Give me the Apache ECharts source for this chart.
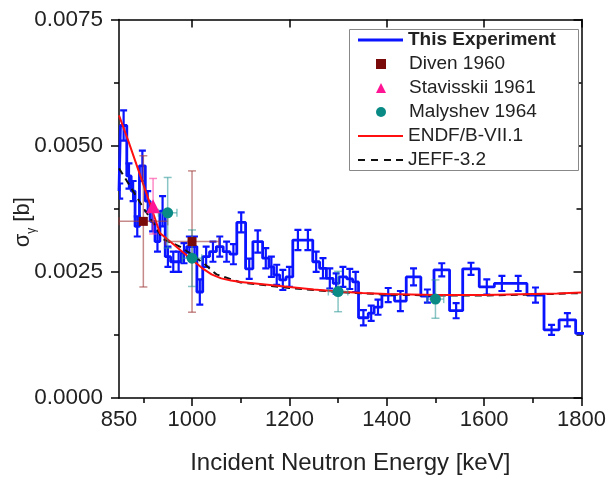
<!DOCTYPE html>
<html>
<head>
<meta charset="utf-8">
<script src="https://cdn.jsdelivr.net/npm/echarts@6/dist/echarts.min.js"></script>
<style>
  html, body { margin: 0; padding: 0; background: #fff; }
  #chart { width: 610px; height: 477px; }
</style>
</head>
<body>
<div id="chart"></div>
<script>
// histogram bins of this experiment (keV) and capture cross section (b)
const binEdges = [850, 853, 866, 875, 883, 892, 904, 914, 924, 934,
  945, 956, 967, 978, 989, 1000, 1010, 1022, 1036, 1050,
  1064, 1078, 1092, 1110, 1125, 1145, 1158, 1168, 1180, 1193,
  1207, 1228, 1248, 1262, 1276, 1290, 1302, 1318, 1330, 1342,
  1362, 1374, 1390, 1416, 1440, 1470, 1497, 1529, 1556, 1590,
  1621, 1652, 1688, 1723, 1754, 1788, 1830]
const histValues = [0.0041, 0.0054, 0.0044, 0.0041, 0.0034, 0.0046, 0.0039, 0.0035, 0.0031,
  0.0037, 0.0028, 0.0027, 0.0027, 0.00287, 0.0030, 0.0030, 0.0021, 0.0028, 0.0029,
  0.0030, 0.0029, 0.00285, 0.00348, 0.00256, 0.0031, 0.00277, 0.0026, 0.00244, 0.00234,
  0.0024, 0.00313, 0.00313, 0.0027, 0.00257, 0.00237, 0.00227, 0.0024, 0.00236, 0.0023,
  0.00159, 0.00168, 0.0018, 0.00204, 0.00192, 0.0024, 0.00202, 0.00254, 0.00173, 0.00256,
  0.0022, 0.00227, 0.00227, 0.00204, 0.00135, 0.00155, 0.00128]
const histErrors = [0.00015, 0.0003, 0.00025, 0.0002, 0.0002, 0.0003, 0.0002, 0.0002, 0.0002,
  0.0003, 0.0002, 0.0002, 0.0002, 0.0002, 0.0002, 0.0002, 0.00025, 0.0002, 0.0002,
  0.0002, 0.0002, 0.0002, 0.0002, 0.0002, 0.00022, 0.0002, 0.0002, 0.0002, 0.0002,
  0.0002, 0.0002, 0.0002, 0.0002, 0.0002, 0.0002, 0.0002, 0.0002, 0.0002, 0.0002,
  0.00015, 0.00015, 0.00015, 0.00014, 0.0002, 0.00017, 0.00013, 0.00013, 0.00015, 0.00012,
  0.00015, 0.00015, 0.00015, 0.00015, 0.0001, 0.00013, 0.0001]

// older measurements: energy, value, energy error, value error
const divenE = [900, 1000]
const divenS = [0.0035, 0.0031]
const divenDE = [50, 55]
const divenDS = [0.0013, 0.0014]

const stavE = [920]
const stavS = [0.0038]
const stavDE = [0]
const stavDS = [0.00055]

const malE = [950, 1000, 1300, 1500]
const malS = [0.00367, 0.00277, 0.00211, 0.00196]
const malDE = [19, 20, 20, 17]
const malDS = [0.0007, 0.00056, 0.0004, 0.00038]

// evaluations
const endfE = [850, 870, 890, 910, 934, 960, 980, 1000, 1020, 1040, 1060, 1080, 1100,
  1150, 1200, 1250, 1300, 1350, 1400, 1450, 1500, 1550, 1600, 1650, 1700, 1750, 1800]
const endfS = [0.0056, 0.00507, 0.00451, 0.00395, 0.00327, 0.00306, 0.0029, 0.00274, 0.00258,
  0.00245, 0.00237, 0.00233, 0.0023, 0.00225, 0.0022, 0.00215, 0.00211, 0.00208, 0.00206,
  0.00205, 0.00204, 0.00204, 0.00204, 0.00205, 0.00206, 0.00207, 0.00209]
const jeffE = [850, 870, 900, 925, 940, 975, 1000, 1025, 1050, 1100, 1200, 1300, 1400, 1500, 1600, 1700, 1800]
const jeffS = [0.00455, 0.00424, 0.00377, 0.0034, 0.00315, 0.0030, 0.00284, 0.00266, 0.00245,
  0.00229, 0.00218, 0.0021, 0.00205, 0.00203, 0.00203, 0.00205, 0.00208]

const xLabelValues = [850, 1000, 1200, 1400, 1600, 1800]
const xMajorTicks = [1000, 1200, 1400, 1600, 1800]
const xMinorTicks = [900, 1100, 1300, 1500, 1700]

const FONT = 'Liberation Sans, Arial, sans-serif'
const zip = (a, b) => a.map((v, i) => [v, b[i]])

function errorBars(color, lw, cap) {
  return function (params, api) {
    const x = api.value(0), y = api.value(1), dx = api.value(2), dy = api.value(3)
    const style = { stroke: color, lineWidth: lw }
    const kids = []
    const seg = (x1, y1, x2, y2) => kids.push({ type: 'line', shape: { x1, y1, x2, y2 }, style })
    if (dy > 0) {
      const t = api.coord([x, y + dy]), b = api.coord([x, y - dy])
      seg(t[0], t[1], b[0], b[1])
      seg(t[0] - cap, t[1], t[0] + cap, t[1])
      seg(b[0] - cap, b[1], b[0] + cap, b[1])
    }
    if (dx > 0) {
      const l = api.coord([x - dx, y]), r = api.coord([x + dx, y])
      seg(l[0], l[1], r[0], r[1])
      seg(l[0], l[1] - cap, l[0], l[1] + cap)
      seg(r[0], r[1] - cap, r[0], r[1] + cap)
    }
    return { type: 'group', children: kids }
  }
}

const stepData = binEdges.map((e, i) => [e, histValues[Math.min(i, histValues.length - 1)]])
const histErrData = histValues.map((v, i) => [(binEdges[i] + binEdges[i + 1]) / 2, v, 0, histErrors[i]])
const pack = (E, S, DE, DS) => E.map((e, i) => [e, S[i], DE[i], DS[i]])

const chart = echarts.init(document.getElementById('chart'))

const axisLine = { show: true, onZero: false, lineStyle: { color: '#000', width: 1.5 } }
const tickStyle = { color: '#000', width: 1.5 }
const legendText = { fontFamily: FONT, fontSize: 19, color: '#222', lineHeight: 20 }
const dashIcon = 'path://M0,0h7v2h-7z M13,0h7v2h-7z M26,0h7v2h-7z M38,0h7v2h-7z'

chart.setOption({
  animation: false,
  backgroundColor: '#fff',
  grid: { left: 119, right: 28.5, top: 19.5, bottom: 79, containLabel: false, outerBoundsMode: 'none' },
  graphic: [{
    type: 'rect', z: 100,
    shape: { x: 349.5, y: 29.5, width: 229, height: 141 },
    style: { fill: '#fff', stroke: '#888', lineWidth: 1 }
  }],
  xAxis: [
    {
      type: 'value', min: 850, max: 1800, position: 'bottom',
      name: 'Incident Neutron Energy [keV]', nameLocation: 'middle', nameGap: 53,
      nameTextStyle: { fontFamily: FONT, fontSize: 24, color: '#222' },
      axisLine,
      axisTick: { show: true, inside: false, length: 8, lineStyle: tickStyle, customValues: xMajorTicks },
      axisLabel: {
        show: true, customValues: xLabelValues, margin: 11,
        fontFamily: FONT, fontSize: 22, color: '#222', formatter: v => String(v)
      },
      splitLine: { show: false }
    },
    {
      type: 'value', min: 850, max: 1800, position: 'bottom',
      axisLine: { show: false },
      axisTick: { show: true, inside: false, length: 5, lineStyle: tickStyle, customValues: xMinorTicks },
      axisLabel: { show: false },
      splitLine: { show: false }
    },
    {
      type: 'value', min: 850, max: 1800, position: 'top',
      axisLine,
      axisTick: { show: true, inside: true, length: 8, lineStyle: tickStyle, customValues: xMajorTicks },
      axisLabel: { show: false },
      splitLine: { show: false }
    },
    {
      type: 'value', min: 850, max: 1800, position: 'top',
      axisLine: { show: false },
      axisTick: { show: true, inside: true, length: 5, lineStyle: tickStyle, customValues: xMinorTicks },
      axisLabel: { show: false },
      splitLine: { show: false }
    }
  ],
  yAxis: [
    {
      type: 'value', min: 0, max: 0.0075, interval: 0.0025, position: 'left',
      name: '{s|σ}{g|γ}{s| [b]}', nameLocation: 'middle', nameGap: 81, nameMoveOverlap: false,
      nameTextStyle: {
        fontFamily: FONT, color: '#222', padding: [0, 27, 0, 0],
        rich: {
          s: { fontFamily: FONT, fontSize: 22, color: '#222', verticalAlign: 'middle', lineHeight: 30 },
          g: { fontFamily: FONT, fontSize: 12, color: '#222', verticalAlign: 'bottom', lineHeight: 30 }
        }
      },
      axisLine,
      axisTick: { show: true, inside: false, length: 8, lineStyle: tickStyle },
      minorTick: { show: true, splitNumber: 2, length: 5, lineStyle: tickStyle },
      axisLabel: { margin: 16, fontFamily: FONT, fontSize: 22.5, color: '#222', formatter: v => v.toFixed(4) },
      splitLine: { show: false }
    },
    {
      type: 'value', min: 0, max: 0.0075, interval: 0.0025, position: 'right',
      axisLine,
      axisTick: { show: true, inside: true, length: 8, lineStyle: tickStyle },
      minorTick: { show: true, splitNumber: 2, length: 5, lineStyle: tickStyle },
      axisLabel: { show: false },
      splitLine: { show: false }
    }
  ],
  legend: [
    {
      orient: 'vertical', left: 358, top: 30, z: 101, padding: 0, selectedMode: false,
      itemWidth: 45, itemHeight: 3, textStyle: legendText,
      data: [{ name: 'This Experiment', icon: 'rect', textStyle: { fontWeight: 'bold' } }]
    },
    {
      orient: 'vertical', left: 376, top: 54, z: 101, padding: 0, selectedMode: false,
      itemWidth: 10, itemHeight: 10, itemGap: 4,
      textStyle: Object.assign({ padding: [0, 0, 0, 18] }, legendText),
      data: [
        { name: 'Diven 1960', icon: 'rect' },
        { name: 'Stavisskii 1961', icon: 'triangle' },
        { name: 'Malyshev 1964', icon: 'circle' }
      ]
    },
    {
      orient: 'vertical', left: 358, top: 126, z: 101, padding: 0, selectedMode: false,
      itemWidth: 45, itemHeight: 2, itemGap: 4, textStyle: legendText,
      data: [
        { name: 'ENDF/B-VII.1', icon: 'rect' },
        { name: 'JEFF-3.2', icon: dashIcon }
      ]
    }
  ],
  series: [
    {
      name: 'This Experiment', type: 'line', step: 'end', symbol: 'none', z: 2,
      data: stepData,
      lineStyle: { color: '#0a14ff', width: 2.8 }, itemStyle: { color: '#0a14ff' }
    },
    {
      name: 'hist-err', type: 'custom', z: 2, clip: true,
      renderItem: errorBars('#0a14ff', 2.2, 3.5),
      data: histErrData
    },
    {
      name: 'JEFF-3.2', type: 'line', symbol: 'none', z: 3,
      data: zip(jeffE, jeffS),
      lineStyle: { color: '#111', width: 2, type: [7, 5] }, itemStyle: { color: '#111' }
    },
    {
      name: 'ENDF/B-VII.1', type: 'line', symbol: 'none', z: 4,
      data: zip(endfE, endfS),
      lineStyle: { color: '#ff1010', width: 2 }, itemStyle: { color: '#ff1010' }
    },
    {
      name: 'diven-err', type: 'custom', z: 5,
      renderItem: errorBars('rgba(160,60,60,0.6)', 1.5, 4),
      data: pack(divenE, divenS, divenDE, divenDS)
    },
    {
      name: 'stav-err', type: 'custom', z: 5,
      renderItem: errorBars('rgba(255,60,160,0.6)', 1.5, 4),
      data: pack(stavE, stavS, stavDE, stavDS)
    },
    {
      name: 'mal-err', type: 'custom', z: 5,
      renderItem: errorBars('rgba(40,150,150,0.55)', 1.5, 4),
      data: pack(malE, malS, malDE, malDS)
    },
    {
      name: 'Diven 1960', type: 'scatter', symbol: 'rect', symbolSize: 9, z: 6,
      data: zip(divenE, divenS), itemStyle: { color: '#7a0a0a', opacity: 1 }
    },
    {
      name: 'Stavisskii 1961', type: 'scatter', symbol: 'triangle', symbolSize: 14, z: 7,
      data: zip(stavE, stavS), itemStyle: { color: '#ff1493', opacity: 1 }
    },
    {
      name: 'Malyshev 1964', type: 'scatter', symbol: 'circle', symbolSize: 11, z: 6,
      data: zip(malE, malS), itemStyle: { color: '#0a8a85', opacity: 1 }
    }
  ]
})
</script>
</body>
</html>
